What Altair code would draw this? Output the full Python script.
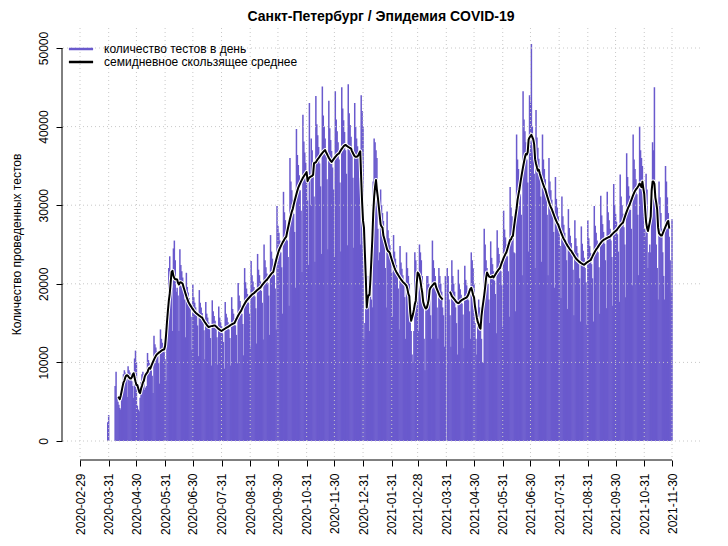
import altair as alt
import pandas as pd

TITLE = "Санкт-Петербург / Эпидемия COVID-19"
Y_TITLE = "Количество проведенных тестов"
SERIES_BARS = "количество тестов в день"
SERIES_LINE = "семидневное скользящее среднее"

# Daily number of tests, thousands (None = no data)
mar_2020 = [2.4, 3.3]  # starts 2020-03-30
apr_2020 = [None, None, None, None, None, None, 7.0, 8.8, 5.5, 5.0, 4.6, 4.2, 4.0, 6.5, 7.5, 8.5, 9.0, 8.7, 8.0, 5.6,
            9.5, 9.0, 8.7, 8.3, 7.6, 7.0, 5.5, 10.5, 11.5, 10.0]
may_2020 = [4.5, 4.0, 3.8, 5.5, 7.5, 8.5, 8.8, 8.5, 6.5, 6.8, 7.0, 11.2, 10.3, 9.9, 9.6, 9.0, 8.3, 6.1, 13.4, 12.3,
            11.9, 11.4, 10.8, 9.9, 7.3, 14.2, 13.0, 12.5, 12.1, 11.4, 10.4]
jun_2020 = [7.7, 14.5, 16.0, 22.0, 23.5, 21.5, 19.5, 14.0, 24.5, 25.5, 23.0, 19.0, 19.5, 18.5, 14.0, 24.4, 22.4, 21.6,
            20.8, 19.6, 18.0, 13.2, 21.4, 19.6, 18.9, 18.2, 17.2, 15.8, 11.6, 19.9]
jul_2020 = [18.3, 17.6, 17.0, 16.0, 14.7, 10.8, 19.2, 17.6, 17.0, 16.3, 15.4, 14.1, 10.4, 17.7, 16.2, 15.7, 15.1, 14.2,
            13.1, 9.6, 17.9, 16.5, 15.9, 15.3, 14.4, 13.2, 9.7, 17.1, 15.7, 15.1, 14.6]
aug_2020 = [13.7, 12.6, 9.2, 17.7, 16.2, 15.7, 15.1, 14.2, 13.1, 9.6, 18.3, 16.8, 16.2, 15.6, 14.7, 13.5, 9.9, 20.1,
            18.5, 17.8, 17.2, 16.2, 14.9, 10.9, 22.0, 20.2, 19.4, 18.7, 17.6, 16.2, 11.9]
sep_2020 = [22.9, 21.1, 20.3, 19.6, 18.4, 16.9, 12.4, 23.8, 21.8, 21.1, 20.3, 19.1, 17.6, 12.9, 25.0, 23.0, 22.1, 21.3,
            20.1, 18.5, 13.5, 26.2, 24.1, 23.2, 22.4, 21.1, 19.4, 14.2, 29.9, 27.4]
oct_2020 = [26.5, 25.5, 24.0, 22.1, 16.2, 31.7, 29.1, 28.1, 27.0, 25.5, 23.4, 17.2, 36.0, 33.0, 31.9, 30.7, 28.9, 26.6,
            19.5, 39.7, 36.4, 35.1, 33.8, 31.9, 29.3, 21.5, 41.5, 38.1, 36.7, 35.4, 33.3]
nov_2020 = [30.6, 22.4, 43.0, 30.0, 38.5, 37.0, 33.8, 31.1, 22.8, 43.9, 40.3, 38.9, 37.4, 35.3, 32.4, 23.8, 45.1, 41.4,
            40.0, 38.5, 36.3, 33.3, 24.4, 43.3, 39.8, 38.3, 36.9, 34.8, 32.0, 23.4]
dec_2020 = [44.5, 40.9, 39.4, 38.0, 35.8, 32.9, 24.1, 45.0, 42.3, 40.8, 39.3, 37.0, 34.0, 24.9, 45.4, 41.7, 40.2, 38.7,
            36.5, 33.5, 24.6, 43.0, 40.0, 38.5, 37.5, 36.0, 33.5, 25.0, 44.0, 42.0, 40.0]
jan_2021 = [13.0, 15.0, 17.0, 19.0, 21.0, 20.0, 14.0, 21.0, 18.0, 17.0, 33.0, 38.5, 38.0, 37.0, 36.0, 27.0, 23.0, 24.0,
            32.0, 30.0, 29.0, 28.0, 25.0, 22.0, 17.0, 29.2, 26.8, 25.8, 24.9, 23.4, 21.5]
feb_2021 = [15.8, 26.2, 24.1, 23.2, 22.4, 21.1, 19.4, 14.2, 24.8, 22.7, 21.9, 21.1, 19.9, 18.3, 13.0, 24.0, 22.0, 21.0,
            20.0, 17.0, 14.0, 11.0, 10.0, 14.0, 24.0, 23.0, 21.0, 19.0]
mar_2021 = [14.0, 25.0, 24.0, 23.0, 21.0, 17.0, 13.0, 9.0, 17.0, 21.0, 21.0, 20.0, 18.0, 16.0, 13.0, 25.5, 23.0, 22.0,
            21.0, 19.0, 17.0, 13.0, 22.0, 21.0, 20.0, 19.0, 17.0, 16.0, 12.0, 21.0, None]
apr_2021 = [22.0, 21.0, 18.0, 16.0, 12.0, 23.0, 21.0, 20.0, 19.0, 17.0, 15.0, 11.0, 21.8, 20.0, 19.3, 18.6, 17.5, 16.1,
            11.8, 22.3, 20.5, 19.8, 19.0, 17.9, 16.5, 13.0, 24.0, 23.0, 22.0, 20.0]
may_2021 = [15.0, 13.0, 11.0, 16.0, 18.0, 17.0, 16.0, 13.0, 10.0, 10.0, 27.0, 25.0, 23.0, 22.0, 20.0, 18.0, 15.0, 25.4,
            23.3, 22.5, 21.6, 20.4, 18.7, 13.7, 26.8, 24.6, 23.8, 22.9, 21.6, 19.8, 14.5]
jun_2021 = [29.3, 26.9, 25.9, 25.0, 23.5, 21.6, 15.8, 32.3, 29.7, 28.6, 27.6, 24.0, 23.9, 16.5, 39.0, 35.8, 34.6, 33.3,
            31.4, 28.8, 21.1, 44.5, 40.9, 39.4, 38.0, 35.8, 32.9, 24.1, 44.0, 43.0]
jul_2021 = [50.5, 40.0, 37.0, 34.0, 22.0, 42.1, 38.6, 37.3, 35.9, 33.8, 31.1, 22.8, 39.0, 35.8, 34.6, 33.3, 31.4, 28.8,
            21.1, 36.0, 33.0, 31.9, 30.7, 28.9, 26.6, 19.5, 33.6, 30.8, 29.7, 28.6, 27.0]
aug_2021 = [24.8, 18.2, 31.1, 28.6, 27.5, 26.5, 25.0, 23.0, 16.8, 29.5, 27.1, 26.1, 25.2, 23.7, 21.8, 16.0, 28.1, 25.8,
            24.8, 23.9, 22.5, 20.7, 15.2, 27.3, 25.1, 24.2, 23.3, 22.0, 20.2, 14.8, 28.1]
sep_2021 = [25.8, 24.8, 23.9, 22.5, 20.7, 15.2, 29.9, 27.4, 26.5, 25.5, 24.0, 22.1, 16.2, 31.2, 28.7, 27.6, 26.6, 25.1,
            23.0, 16.9, 31.7, 29.1, 28.1, 27.0, 25.5, 23.4, 17.2, 32.7, 30.0, 28.9]
oct_2021 = [27.9, 26.3, 24.1, 17.7, 33.9, 31.1, 30.0, 28.9, 27.2, 25.0, 18.3, 36.6, 33.6, 32.4, 31.2, 29.4, 27.0, 19.8,
            39.0, 35.8, 34.6, 33.3, 31.4, 28.8, 21.1, 40.0, 37.0, 36.0, 35.0, 30.0, 27.0]
nov_2021 = [26.0, 34.0, 32.0, 22.0, 24.0, 25.0, 24.0, 30.0, 38.0, 37.0, 45.0, 32.0, 25.0, 22.0, 18.0, 33.0, 31.0, 29.0,
            27.0, 24.0, 21.0, 18.0, 35.0, 33.0, 31.0, 29.0, 26.0, 23.0, 19.0, 28.2]

months = [
    ("2020-03-30", mar_2020), ("2020-04-01", apr_2020), ("2020-05-01", may_2020), ("2020-06-01", jun_2020),
    ("2020-07-01", jul_2020), ("2020-08-01", aug_2020), ("2020-09-01", sep_2020), ("2020-10-01", oct_2020),
    ("2020-11-01", nov_2020), ("2020-12-01", dec_2020), ("2021-01-01", jan_2021), ("2021-02-01", feb_2021),
    ("2021-03-01", mar_2021), ("2021-04-01", apr_2021), ("2021-05-01", may_2021), ("2021-06-01", jun_2021),
    ("2021-07-01", jul_2021), ("2021-08-01", aug_2021), ("2021-09-01", sep_2021), ("2021-10-01", oct_2021),
    ("2021-11-01", nov_2021),
]

tick_dates = ["2020-02-29", "2020-03-31", "2020-04-30", "2020-05-31", "2020-06-30", "2020-07-31", "2020-08-31",
              "2020-09-30", "2020-10-31", "2020-11-30", "2020-12-31", "2021-01-31", "2021-02-28", "2021-03-31",
              "2021-04-30", "2021-05-31", "2021-06-30", "2021-07-31", "2021-08-31", "2021-09-30", "2021-10-31",
              "2021-11-30"]
y_ticks = [0, 10000, 20000, 30000, 40000, 50000]

frames = []
for start, vals in months:
    dates = pd.date_range(start, periods=len(vals), freq="D")
    frames.append(pd.DataFrame({"date": dates, "tests_k": pd.Series(vals, dtype="float64")}))
df = pd.concat(frames, ignore_index=True)
df["tests"] = df["tests_k"] * 1000
df["ma"] = df["tests"].rolling(7, center=True).mean()
df["seg"] = df["ma"].isna().cumsum()
df["date"] = df["date"].dt.strftime("%Y-%m-%d")

bars_df = df[df["tests"].notna()][["date", "tests"]].copy()
bars_df["series"] = SERIES_BARS
line_df = df[df["ma"].notna()][["date", "ma", "seg"]].copy()
line_df["series"] = SERIES_LINE


def ms(s):
    return int(pd.Timestamp(s, tz="UTC").value // 10**6)


DAY = 86400000
W, H = 638, 432
px_per_day = (672 - 80) / 640.0
x0 = ms("2020-02-29") - (80 - 62) / px_per_day * DAY
x1 = ms("2021-11-30") + (700 - 672) / px_per_day * DAY
y_lo = -(460 - 441) / 393.0 * 50000
y_hi = (441 - 28) / 393.0 * 50000

FONT = "Liberation Sans"
xscale = alt.Scale(type="utc", domain=[x0, x1])
yscale = alt.Scale(domain=[y_lo, y_hi], nice=False, zero=False)
cscale = alt.Scale(domain=[SERIES_BARS, SERIES_LINE], range=["#6A5ACD", "#000000"])
legend = alt.Legend(
    title=None, orient="none", legendX=12, legendY=14, padding=0,
    symbolType="M-2.2,0H2.2", symbolSize=121, symbolStrokeWidth=2.5,
    labelFont=FONT, labelFontSize=12, labelColor="black", labelOffset=16, rowPadding=0,
    labelLimit=400)

xaxis = alt.Axis(
    values=[ms(d) for d in tick_dates],
    labelExpr="utcFormat(datum.value, '%Y-%m-%d')",
    labelAngle=270, labelAlign="right", labelBaseline="middle",
    domain=False, grid=False, tickSize=6, tickColor="black", labelPadding=7,
    labelFont=FONT, labelFontSize=12, labelColor="black", title=None,
    labelOverlap=False, labelFlush=False)
yaxis = alt.Axis(
    values=y_ticks, format="d", labelAngle=270, labelAlign="center", labelBaseline="bottom",
    domain=False, grid=False, tickSize=6, tickColor="black", labelPadding=6,
    labelFont=FONT, labelFontSize=12, labelColor="black",
    title=Y_TITLE, titleFont=FONT, titleFontSize=12, titleFontWeight="normal", titleColor="black",
    titleAngle=270, titleX=-46, titleY=H / 2, titleAlign="center", titleBaseline="middle",
    labelOverlap=False, labelFlush=False)

grid_color = "#c8c8c8"

bars = alt.Chart(bars_df).mark_rule(strokeWidth=1.5).encode(
    x=alt.X("date:T", scale=xscale, axis=xaxis),
    y=alt.Y("tests:Q", scale=yscale, axis=yaxis),
    y2=alt.datum(0),
    color=alt.Color("series:N", scale=cscale, legend=legend),
)

vgrid = alt.Chart(pd.DataFrame({"d": tick_dates})).mark_rule(
    color=grid_color, strokeDash=[1, 3], strokeWidth=1).encode(
    x=alt.X("d:T", scale=xscale, axis=xaxis))

hgrid = alt.Chart(pd.DataFrame({"v": y_ticks})).mark_rule(
    color=grid_color, strokeDash=[1, 3], strokeWidth=1).encode(
    y=alt.Y("v:Q", scale=yscale, axis=yaxis))

x_axis_line = alt.Chart(pd.DataFrame({"a": [tick_dates[0]], "b": [tick_dates[-1]]})).mark_rule(
    color="black", strokeWidth=1).encode(
    x=alt.X("a:T", scale=xscale, axis=xaxis), x2="b:T", y=alt.value(H))

y_axis_line = alt.Chart(pd.DataFrame({"a": [y_ticks[0]], "b": [y_ticks[-1]]})).mark_rule(
    color="black", strokeWidth=1).encode(
    y=alt.Y("a:Q", scale=yscale, axis=yaxis), y2="b:Q", x=alt.value(0))

halo = alt.Chart(line_df).mark_line(color="white", strokeWidth=4, strokeJoin="round").encode(
    x=alt.X("date:T", scale=xscale, axis=xaxis),
    y=alt.Y("ma:Q", scale=yscale, axis=yaxis),
    detail="seg:N")

line = alt.Chart(line_df).mark_line(strokeWidth=2, strokeJoin="round").encode(
    x=alt.X("date:T", scale=xscale, axis=xaxis),
    y=alt.Y("ma:Q", scale=yscale, axis=yaxis),
    detail="seg:N",
    color=alt.Color("series:N", scale=cscale, legend=legend))

chart = alt.layer(bars, vgrid, hgrid, x_axis_line, y_axis_line, halo, line).properties(
    width=W, height=H,
    background="white",
    title=alt.TitleParams(TITLE, font=FONT, fontSize=14, fontWeight="bold", anchor="middle",
                          offset=4, color="black"),
    autosize=alt.AutoSizeParams(type="none"),
    padding={"left": 54, "top": 20, "right": 20, "bottom": 78},
).configure_view(stroke=None)

chart.save("out.html", embed_options={"renderer": "svg", "actions": False})
